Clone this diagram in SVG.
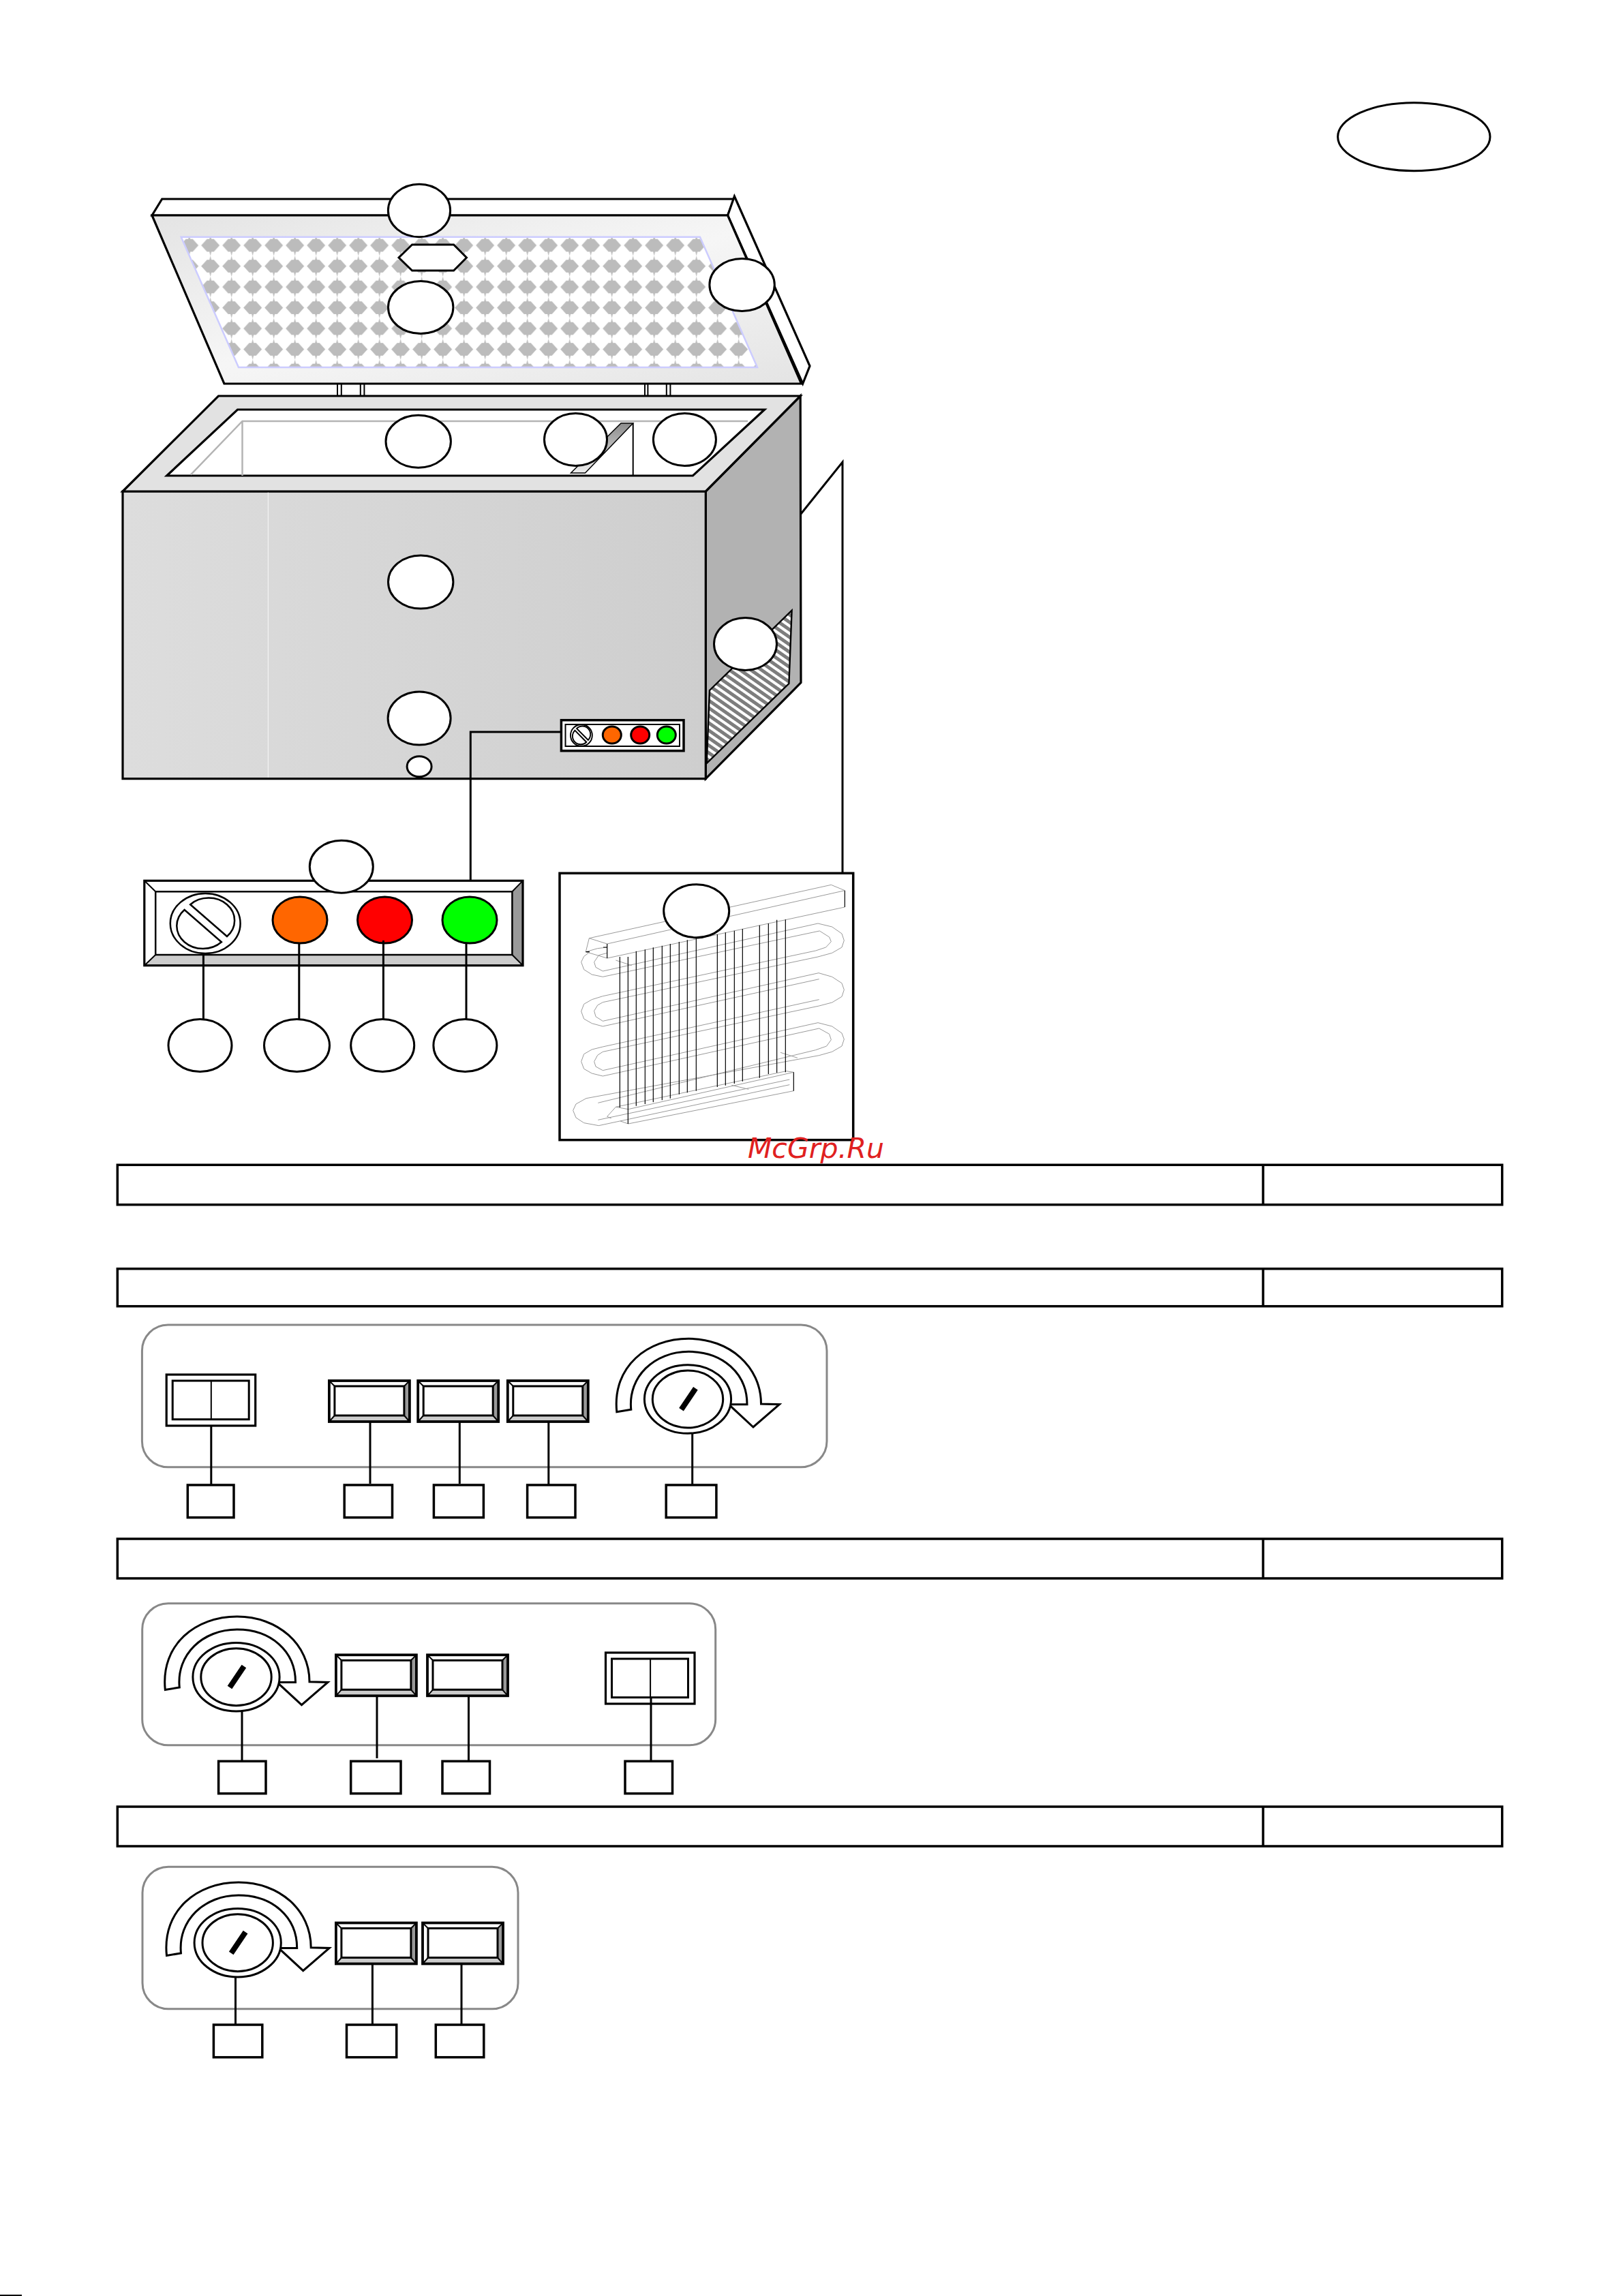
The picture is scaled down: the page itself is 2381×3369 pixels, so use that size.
<svg xmlns="http://www.w3.org/2000/svg" xmlns:xlink="http://www.w3.org/1999/xlink" width="2381" height="3369" viewBox="0 0 2381 3369">
<style>
.k{stroke:#000;stroke-width:3.2;stroke-linejoin:miter}
.w{fill:#fff}
.n{fill:none}
.lab{fill:#fff;stroke:#000;stroke-width:3}
.ln{fill:none;stroke:#000;stroke-width:3}
.thin{fill:none;stroke:#000;stroke-width:2}
.round{fill:#fff;stroke:#888;stroke-width:3}
.box{fill:#fff;stroke:#000;stroke-width:3.5}
.row{fill:#fff;stroke:#000;stroke-width:3.5}
.coil{fill:none;stroke:#9a9a9a;stroke-width:3}
.fin{fill:none;stroke:#000;stroke-width:3.6}
.wm{font-family:"DejaVu Sans",sans-serif;font-style:italic;font-size:41px;fill:#e02020}
</style>
<defs>
<linearGradient id="gLid" x1="0" y1="0" x2="1" y2="1"><stop offset="0" stop-color="#e4e4e4"/><stop offset=".5" stop-color="#f6f6f6"/><stop offset="1" stop-color="#e4e4e4"/></linearGradient>
<linearGradient id="gFront" x1="0" y1="0" x2="1" y2="0"><stop offset="0" stop-color="#dddddd"/><stop offset="1" stop-color="#cecece"/></linearGradient>
<linearGradient id="gStrip" x1="0" y1="0" x2="0" y2="1"><stop offset="0" stop-color="#8c8c8c"/><stop offset="1" stop-color="#eeeeee"/></linearGradient>
<pattern id="pLid" patternUnits="userSpaceOnUse" x="293.2" y="344.8" width="31" height="30.5">
<rect width="31" height="30.5" fill="#fff"/>
<polygon fill="#bcbcbc" points="15.5,0 17,6 20.5,6 29,15.25 20.5,24.5 17,24.5 15.5,30.5 14,24.5 10.5,24.5 2,15.25 10.5,6 14,6"/>
</pattern>
<pattern id="pGrille" patternUnits="userSpaceOnUse" width="9" height="9" patternTransform="rotate(35)">
<rect width="9" height="9" fill="#fff"/><rect width="9" height="5" fill="#7d7d7d"/>
</pattern>
<g id="btn">
<rect class="w" x="0" y="0" width="118" height="60"/>
<polygon fill="#999" points="118,0 110,8 110,51 118,60"/>
<polygon fill="#ccc" points="0,60 8,51 110,51 118,60"/>
<path class="thin" d="M0 0L8 8M118 0L110 8M0 60L8 51M118 60L110 51"/>
<rect class="n" stroke="#000" stroke-width="3" x="8" y="8" width="102" height="43"/>
<rect class="n" stroke="#000" stroke-width="3.8" x="0" y="0" width="118" height="60"/>
</g>
<g id="sw">
<rect class="w" stroke="#000" stroke-width="3.2" x="0" y="0" width="130.5" height="75"/>
<rect class="n" stroke="#000" stroke-width="3" x="9" y="9" width="112" height="56.7"/>
<path class="thin" d="M65.6 9V65.7"/>
</g>
<g id="dial">
<path class="w" stroke="#000" stroke-width="3" stroke-linejoin="miter" d="M904.8 2071.7C898 2005 950 1964.3 1010.3 1964.3C1070 1964.3 1116.5 2005 1116.5 2060L1143.5 2060.7L1105 2094L1069 2060.7L1096 2060.7C1096 2015 1060 1983.3 1010.3 1983.3C960 1983.3 921 2020 925.8 2068.3Z"/>
<ellipse class="w" stroke="#000" stroke-width="3" cx="1009" cy="2053" rx="63.6" ry="50.3"/>
<ellipse class="w" stroke="#000" stroke-width="3" cx="1009" cy="2053" rx="51.7" ry="42"/>
<path d="M1020.4 2037.3L999.5 2068.3" fill="none" stroke="#000" stroke-width="8"/>
</g>
<g id="knob" fill="#fff" stroke="#000">
<ellipse cx="301.2" cy="1355" rx="51.4" ry="44"/>
<path d="M279.2 1327.3L333 1374A38 33 0 0 0 279.2 1327.3Z"/>
<path d="M270.6 1335L324.9 1382.3A38 33 0 0 1 270.6 1335Z"/>
</g>
</defs>
<rect width="2381" height="3369" fill="#fff"/>

<g id="freezer">
<g id="lid">
<polygon class="w k" points="223,316 237.7,292 1077.4,292 1067.6,316"/>
<polygon class="w k" points="1077.4,288 1188,537 1177.7,563 1067.6,316"/>
<polygon class="k" fill="url(#gLid)" points="223,316 1067.6,316 1175.6,563 328.9,563"/>
<polygon fill="url(#pLid)" stroke="#ccccff" stroke-width="2.5" points="265.7,347.7 1026.9,347.7 1111,539 350,539"/>
<polygon id="lid-badge" class="lab" points="604.6,359 665.6,359 684.5,378 665.6,397 604.6,397 585,378"/>
</g>
<g id="hinges">
<path class="thin" d="M495 563V581M500.8 563V581M528.8 563V581M534.4 563V581M946 563V581M950.4 563V581M977.8 563V581M983.4 563V581"/>
</g>
<g id="cabinet">
<polygon fill="#b2b2b2" class="k" points="1035.3,721 1174.2,581 1175,1001.7 1035.3,1142.7"/>
<polygon fill="url(#gFront)" class="k" points="180,721 1035.3,721 1035.3,1142.7 180,1142.7"/>
<path d="M393.4 722V1141" stroke="#f2f2f2" stroke-width="1.2" fill="none"/>
<polygon fill="#e2e2e2" class="k" points="180,721 320.5,581 1174.2,581 1035.3,721"/>
<polygon class="w k" points="244.7,698 348.5,601 1121.6,601 1016.4,698"/>
<path d="M279.8 696.7L355.5 618H1097M355.5 618V698" fill="none" stroke="#b4b4b4" stroke-width="2.5"/>
<polygon fill="url(#gStrip)" stroke="#000" stroke-width="1.5" points="911,621 928.7,621 858.5,694 837.5,694"/>
<path class="thin" d="M928.7 621V699"/>
<polygon fill="url(#pGrille)" stroke="#000" stroke-width="2.4" points="1161.6,895.7 1157.4,1003 1036.7,1120 1041,1013"/>
</g>
<g id="mini-panel">
<rect class="w" stroke="#000" stroke-width="3.5" x="823.4" y="1056.7" width="179.6" height="45"/>
<rect class="n" stroke="#000" stroke-width="2" x="829.5" y="1063" width="167.5" height="32"/>
<use xlink:href="#knob" href="#knob" transform="translate(852.9 1079) scale(.31 .36) translate(-301.2 -1355)" stroke-width="6"/>
<ellipse fill="#ff6600" stroke="#000" stroke-width="3" cx="897.8" cy="1078.5" rx="13.5" ry="12.5"/>
<ellipse fill="#ff0000" stroke="#000" stroke-width="3" cx="939.2" cy="1078.5" rx="13.5" ry="12.5"/>
<ellipse fill="#00ff00" stroke="#000" stroke-width="3" cx="977.8" cy="1078.5" rx="13.5" ry="12.5"/>
</g>
</g>

<g id="control-panel">
<rect class="w" x="211.8" y="1292.3" width="555.2" height="124.4"/>
<polygon fill="#999" points="767,1292.3 751.4,1308.3 751.4,1401 767,1416.7"/>
<polygon fill="#ccc" points="211.8,1416.7 228.2,1401 751.4,1401 767,1416.7"/>
<path class="thin" d="M211.8 1292.3L228.2 1308.3M767 1292.3L751.4 1308.3M211.8 1416.7L228.2 1401M767 1416.7L751.4 1401"/>
<rect class="n" stroke="#000" stroke-width="2.5" x="228.2" y="1308.3" width="523.2" height="92.7"/>
<rect class="n" stroke="#000" stroke-width="3.2" x="211.8" y="1292.3" width="555.2" height="124.4"/>
<use xlink:href="#knob" href="#knob" stroke-width="2.5"/>
<ellipse fill="#ff6600" stroke="#000" stroke-width="3" cx="440" cy="1350" rx="40" ry="34"/>
<ellipse fill="#ff0000" stroke="#000" stroke-width="3" cx="564.5" cy="1350" rx="40" ry="34"/>
<ellipse fill="#00ff00" stroke="#000" stroke-width="3" cx="689" cy="1350" rx="40" ry="34"/>
</g>

<g id="evaporator">
<rect class="w" stroke="#000" stroke-width="3.5" x="821" y="1281.3" width="430.7" height="391.4"/>
<g transform="translate(800 1260) scale(.33333)">
<path class="coil" d="M193 350L1258 115L1318 140L272 375L193 350L178 410L272 438L1318 213M178 410L230 395L272 390"/>
<path class="coil" d="M272 415L235 425L215 455L222 478L253 495L1200 285L1262 300L1305 330L1315 360L1305 390L1262 415L1200 432L253 632L230 645L215 670L222 695L253 715L1203 503L1262 520L1305 548L1315 577L1305 607L1262 633L1205 648L253 850L230 865L215 893L222 915L253 932L1200 722L1262 738L1305 768L1315 795L1305 825L1262 850L1205 866L180 1055L135 1080L122 1108L135 1140L170 1163L235 1175L1075 995"/>
<path class="coil" d="M190 415L170 430L158 455L170 488L205 510L253 520L1207 318L1250 345L1258 365L1235 390L1190 405L253 605L205 620L170 640L158 672L170 705L205 725L253 738L1205 530M1205 620L253 828L205 840L170 860L158 893L170 925L205 945L253 957L1205 747L1250 772L1258 797L1238 825L1190 842L232 1075M310 1093L1060 935L1093 940L365 1103L310 1093L272 1135L290 1143M232 1150L1075 972M330 1155L365 1167L1093 1022M310 447L380 470M1035 853L1110 877M820 997L895 1015"/>
<path class="fin" d="M1318 140V213M272 375V438M255 390H272M178 410H195M1093 940V1022M328 432V1095M364 432V1167M400 407V1088M439 400V1080M475 391V1072M514 383V1063M550 375V1055M589 366V1037M625 358V1030M664 350V1022M757 333V1005M793 325V998M832 317V990M868 309V980M943 293V965M982 285V948M1019 269V942M1057 268V940"/>
</g>
</g>

<g id="row-1"><rect class="row" x="172.3" y="1709.3" width="2031.4" height="58.4"/><path class="row" d="M1853 1709.3V1767.7"/></g>
<g id="row-2"><rect class="row" x="172.3" y="1861.7" width="2031.4" height="55"/><path class="row" d="M1853 1861.7V1916.7"/></g>
<g id="row-3"><rect class="row" x="172.3" y="2258" width="2031.4" height="58"/><path class="row" d="M1853 2258V2316"/></g>
<g id="row-4"><rect class="row" x="172.3" y="2651" width="2031.4" height="58"/><path class="row" d="M1853 2651V2709"/></g>

<g id="panel-a">
<rect class="round" x="208.4" y="1944" width="1004.6" height="208.7" rx="38" ry="38"/>
<use xlink:href="#sw" href="#sw" x="244.2" y="2017"/>
<use xlink:href="#btn" href="#btn" x="482.9" y="2026"/>
<use xlink:href="#btn" href="#btn" x="613.2" y="2026"/>
<use xlink:href="#btn" href="#btn" x="744.8" y="2026"/>
<use xlink:href="#dial" href="#dial"/>
</g>
<g id="panel-b">
<rect class="round" x="208.7" y="2352.7" width="841" height="208" rx="38" ry="38"/>
<use xlink:href="#dial" href="#dial" x="-662.5" y="407.7"/>
<use xlink:href="#btn" href="#btn" x="492.9" y="2428.3"/>
<use xlink:href="#btn" href="#btn" x="627" y="2428.3"/>
<use xlink:href="#sw" href="#sw" x="888.5" y="2425"/>
</g>
<g id="panel-c">
<rect class="round" x="209" y="2739.3" width="551" height="208.4" rx="38" ry="38"/>
<use xlink:href="#dial" href="#dial" x="-660.3" y="797.7"/>
<use xlink:href="#btn" href="#btn" x="492.9" y="2821.5"/>
<use xlink:href="#btn" href="#btn" x="620" y="2821.5"/>
</g>

<g id="connectors">
<path class="ln" d="M1175 754L1236 678V1281M823.4 1074H690.3V1292.3"/>
<path class="ln" d="M298.4 1399V1495M438.8 1384V1495M562.4 1380V1495M684 1384V1495"/>
<path class="ln" d="M309.8 2092V2179M543 2086V2177M674.3 2086V2177M804.8 2086V2179M1015.7 2103V2179"/>
<path class="ln" d="M355 2511V2584M553 2488V2580M687.5 2488V2584M955 2490V2584"/>
<path class="ln" d="M345.5 2901V2971M546.4 2881V2970M677 2881V2971"/>
</g>

<g id="labels">
<ellipse id="n1" class="lab" cx="2074.3" cy="200.7" rx="111.7" ry="50"/>
<ellipse id="n2" class="lab" cx="615" cy="309" rx="45.6" ry="38.7"/>
<ellipse id="n3" class="lab" cx="617.2" cy="451" rx="47.7" ry="38.5"/>
<ellipse id="n4" class="lab" cx="1088.6" cy="418" rx="47.7" ry="38.5"/>
<ellipse id="n5" class="lab" cx="613.7" cy="647.7" rx="47.7" ry="38.5"/>
<ellipse id="n6" class="lab" cx="844.5" cy="645" rx="46" ry="38.5"/>
<ellipse id="n7" class="lab" cx="1004.4" cy="645" rx="46" ry="38.5"/>
<ellipse id="n8" class="lab" cx="1093.5" cy="945" rx="46" ry="38.5"/>
<ellipse id="n9" class="lab" cx="617.2" cy="854" rx="47.7" ry="39"/>
<ellipse id="n10" class="lab" cx="615.1" cy="1054" rx="46" ry="39"/>
<ellipse id="n11" class="lab" cx="615.1" cy="1124.7" rx="18" ry="15"/>
<ellipse id="n12" class="lab" cx="500.8" cy="1271.7" rx="46.5" ry="38.5"/>
<ellipse id="n13" class="lab" cx="293.5" cy="1534" rx="46.5" ry="38.5"/>
<ellipse id="n14" class="lab" cx="435.5" cy="1534" rx="48" ry="38.5"/>
<ellipse id="n15" class="lab" cx="561.2" cy="1534" rx="46.5" ry="38.5"/>
<ellipse id="n16" class="lab" cx="682.4" cy="1534" rx="46.5" ry="38.5"/>
<ellipse id="n17" class="lab" cx="1021.7" cy="1336.7" rx="48" ry="39"/>
<rect id="b1" class="box" x="275.3" y="2179" width="67.7" height="47.7"/>
<rect id="b2" class="box" x="505.2" y="2179" width="70.3" height="47.7"/>
<rect id="b3" class="box" x="636.4" y="2179" width="73" height="47.7"/>
<rect id="b4" class="box" x="773.6" y="2179" width="70.4" height="47.7"/>
<rect id="b5" class="box" x="977.2" y="2179" width="73.7" height="47.7"/>
<rect id="b6" class="box" x="320.6" y="2584.3" width="69.4" height="47.4"/>
<rect id="b7" class="box" x="514.7" y="2584.3" width="73.3" height="47.4"/>
<rect id="b8" class="box" x="649" y="2584.3" width="69.5" height="47.4"/>
<rect id="b9" class="box" x="917" y="2584.3" width="69.5" height="47.4"/>
<rect id="b10" class="box" x="313.4" y="2971" width="71.4" height="47.7"/>
<rect id="b11" class="box" x="508.5" y="2971" width="73.2" height="47.7"/>
<rect id="b12" class="box" x="639.3" y="2971" width="70.5" height="47.7"/>
</g>

<text class="wm" x="1097" y="1699">McGrp.Ru</text>
<rect x="0" y="3367" width="32" height="2" fill="#000"/>
</svg>
